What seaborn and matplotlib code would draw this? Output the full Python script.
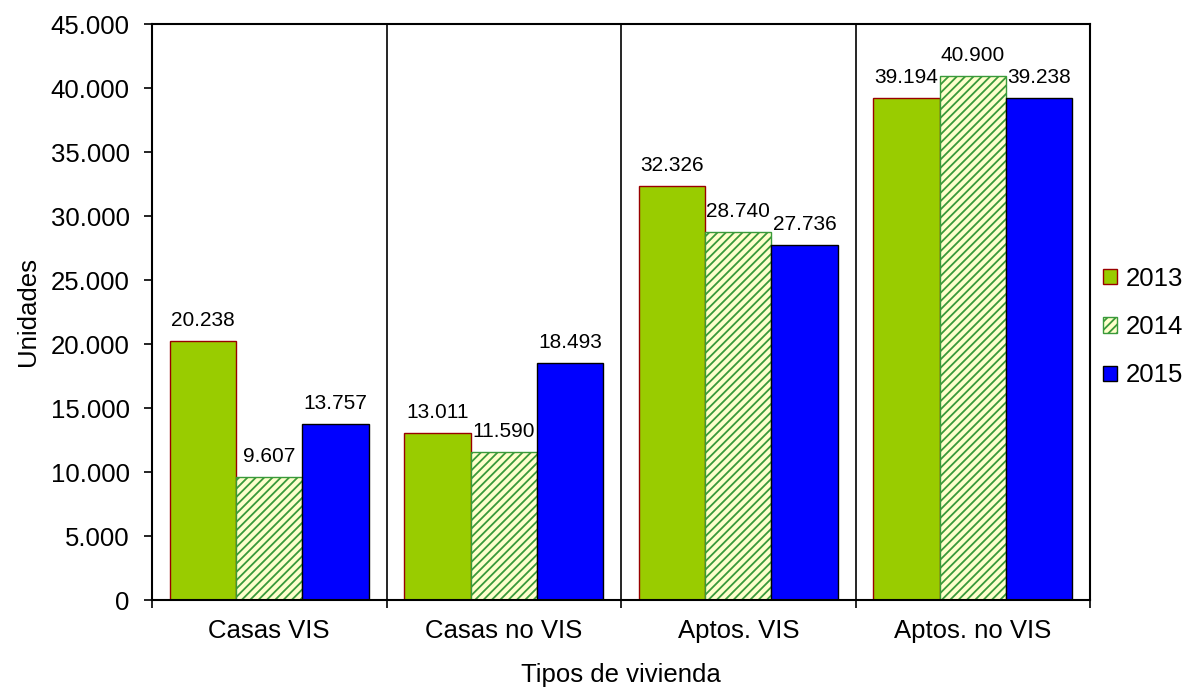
import matplotlib.pyplot as plt
import seaborn as sns
import pandas as pd

tipos = ['Casas VIS', 'Casas no VIS', 'Aptos. VIS', 'Aptos. no VIS']
anios = ['2013', '2014', '2015']
u2013 = [20238, 13011, 32326, 39194]
u2014 = [9607, 11590, 28740, 40900]
u2015 = [13757, 18493, 27736, 39238]
y_ticks = [0, 5000, 10000, 15000, 20000, 25000, 30000, 35000, 40000, 45000]


def miles(v):
    return f'{v:,.0f}'.replace(',', '.')


sns.set_style('white')
plt.rcParams['font.family'] = ['Liberation Sans', 'DejaVu Sans']
plt.rcParams['hatch.linewidth'] = 1.3
plt.rcParams['text.color'] = 'black'
plt.rcParams['axes.labelcolor'] = 'black'
plt.rcParams['xtick.color'] = 'black'
plt.rcParams['ytick.color'] = 'black'

rows = []
for anio, vals in zip(anios, [u2013, u2014, u2015]):
    for t, v in zip(tipos, vals):
        rows.append({'tipo': t, 'anio': anio, 'unidades': v})
df = pd.DataFrame(rows)

fill = ['#99CC00', '#FFFFCC', '#0000FF']
edges = ['#990000', '#3A9A3A', '#000000']
hatches = [None, '////', None]

fig = plt.figure(figsize=(11.9, 6.9), dpi=100)
ax = fig.add_axes([152 / 1190, 1 - 600 / 690, (1090 - 152) / 1190, (600 - 24) / 690])

sns.barplot(data=df, x='tipo', y='unidades', hue='anio', order=tipos,
            hue_order=anios, palette=fill, width=0.85, saturation=1,
            legend=False, ax=ax, errorbar=None)

for cont, ec, h, vals in zip(ax.containers, edges, hatches, [u2013, u2014, u2015]):
    for p in cont.patches:
        p.set_edgecolor(ec)
        p.set_linewidth(1.0)
        if h:
            p.set_hatch(h)
    ax.bar_label(cont, labels=[miles(v) for v in vals], padding=8, fontsize=15,
                 color='black')

ax.set_xlim(-0.5, 3.5)
ax.set_ylim(0, 45000)
ax.set_yticks(y_ticks)
ax.set_yticklabels([miles(v) for v in y_ticks], fontsize=18.5)

# ticks at category boundaries, labels at centres
ax.set_xticks([-0.5, 0.5, 1.5, 2.5, 3.5])
ax.set_xticklabels([])
ax.set_xticks(range(len(tipos)), minor=True)
ax.set_xticklabels(tipos, minor=True, fontsize=18.5)
ax.tick_params(axis='x', which='major', direction='out', length=6, width=1.2, bottom=True)
ax.tick_params(axis='x', which='minor', length=0, pad=14)
ax.tick_params(axis='y', direction='out', length=6, width=1.2, left=True, pad=10)

for b in [0.5, 1.5, 2.5]:
    ax.axvline(b, color='black', linewidth=1.2, zorder=0.5)

for s in ax.spines.values():
    s.set_color('black')
    s.set_linewidth(1.5)

ax.set_xlabel('Tipos de vivienda', fontsize=18.5, labelpad=14)
ax.set_ylabel('Unidades', fontsize=18.5, labelpad=8)

ax.legend(ax.containers, anios, loc='center left', bbox_to_anchor=(1.0, 0.474),
          frameon=False, fontsize=18.5, handlelength=0.55, handleheight=0.55,
          handletextpad=0.35, labelspacing=0.95, borderaxespad=0.3,
          borderpad=0.2)

fig.savefig('out.png', dpi=100)
plt.close(fig)
